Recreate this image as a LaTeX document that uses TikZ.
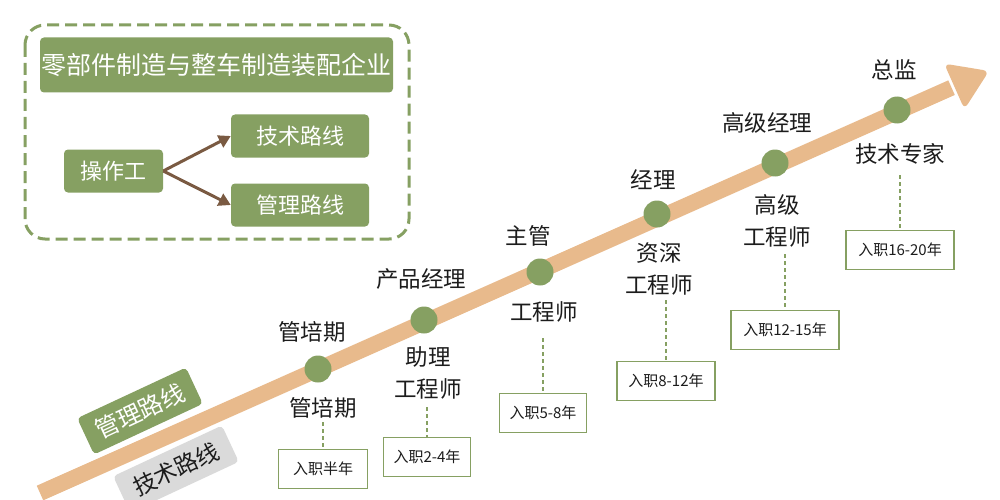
\documentclass[tikz,border=0pt]{standalone}
\usepackage{fontspec}
\newfontfamily\cjk{Noto Sans CJK SC}
\usetikzlibrary{calc,arrows.meta}
\definecolor{G}{RGB}{134,160,98}
\definecolor{T}{RGB}{232,186,140}
\definecolor{B}{RGB}{122,90,66}
\definecolor{GR}{RGB}{218,218,218}
\definecolor{TX}{RGB}{28,28,28}
\tikzset{
  gbox/.style={fill=G, rounded corners=4pt, text=white, inner sep=0pt,
    font=\cjk\fontsize{22}{22}\selectfont},
  lbl/.style={text=TX, align=center, inner sep=0pt,
    font=\cjk\fontsize{22.5}{32}\selectfont},
  ybox/.style={draw=G, line width=1.5pt, fill=white, text=TX, inner sep=0pt,
    minimum height=39pt, font=\cjk\fontsize{15}{15}\selectfont},
  dotn/.style={circle, fill=G, minimum size=27pt, inner sep=0pt},
  vdash/.style={draw=G, line width=1.3pt, dash pattern=on 4pt off 3pt},
  barrow/.style={draw=B, line width=3pt, -{Triangle[length=12pt,width=13pt]}}
}
\begin{document}
\begin{tikzpicture}[x=1pt,y=-1pt]
\useasboundingbox (0,0) rectangle (1000,500);
% main arrow
\coordinate (s) at (40,493);
\coordinate (tip) at (989,71);
\coordinate (bc) at ($(tip)!38pt!(s)$);
\coordinate (b1) at ($(bc)!25pt!90:(tip)$);
\coordinate (b2) at ($(bc)!25pt!-90:(tip)$);
\draw[T, line width=16pt] (s) -- ($(bc)!-3pt!(tip)$);
\fill[T, rounded corners=6pt] (tip) -- (b1) -- (b2) -- cycle;
% rotated labels
\node[gbox, rotate=25, minimum width=120pt, minimum height=40pt,
  font=\cjk\fontsize{24}{24}\selectfont] (mg) at (140,411) {管理路线};
\node[fill=GR, rounded corners=4pt, text=TX, inner sep=0pt, font=\cjk\fontsize{23}{23}\selectfont,
  rotate=25, minimum width=120pt, minimum height=40pt] (tg) at (176,469) {技术路线};
% dots
\node[dotn] (d1) at (318,369) {};
\node[dotn] (d2) at (424,320) {};
\node[dotn] (d3) at (540,272) {};
\node[dotn] (d4) at (657,214) {};
\node[dotn] (d5) at (775,163) {};
\node[dotn] (d6) at (897,110) {};
% top labels
\node[lbl] (u1) at (312,332) {管培期};
\node[lbl] (u2) at (421,279) {产品经理};
\node[lbl] (u3) at (528,236) {主管};
\node[lbl] (u4) at (653,180) {经理};
\node[lbl] (u5) at (767,123) {高级经理};
\node[lbl] (u6) at (894,70) {总监};
% bottom labels
\node[lbl] (l1) at (323,408) {管培期};
\node[lbl] (l2) at (428,373) {助理\\工程师};
\node[lbl] (l3) at (544,312) {工程师};
\node[lbl] (l4) at (659,269) {资深\\工程师};
\node[lbl] (l5) at (777,221) {高级\\工程师};
\node[lbl] (l6) at (900,154) {技术专家};
% year boxes
\node[ybox, minimum width=89pt] (y1) at (323,469) {入职半年};
\node[ybox, minimum width=87pt] (y2) at (427,457) {入职2-4年};
\node[ybox, minimum width=87pt] (y3) at (543,413) {入职5-8年};
\node[ybox, minimum width=98pt] (y4) at (666,381) {入职8-12年};
\node[ybox, minimum width=108pt] (y5) at (785,330) {入职12-15年};
\node[ybox, minimum width=108pt] (y6) at (900,250) {入职16-20年};
\coordinate (c1) at (323,422);
\coordinate (c2) at (427,407);
\coordinate (c3) at (543,338);
\coordinate (c4) at (666,300);
\coordinate (c5) at (785,254);
\coordinate (c6) at (900,175);
\foreach \i in {1,...,6}{\draw[vdash] (c\i) -- (y\i.north);}
% top-left frame
\draw[G, line width=3pt, rounded corners=20pt, dash pattern=on 12pt off 6pt] (25,25) rectangle (409,239);
\node[gbox, minimum width=353pt, minimum height=55pt, font=\cjk\fontsize{25}{25}\selectfont] (title) at (216.5,65) {零部件制造与整车制造装配企业};
\node[gbox, minimum width=99pt, minimum height=43pt] (op) at (113.5,171) {操作工};
\node[gbox, minimum width=138pt, minimum height=43pt] (js) at (300,136) {技术路线};
\node[gbox, minimum width=138pt, minimum height=43pt] (gl) at (300,205) {管理路线};
\draw[barrow] (op.east) -- (js.west);
\draw[barrow] (op.east) -- (gl.west);
\end{tikzpicture}
\end{document}
